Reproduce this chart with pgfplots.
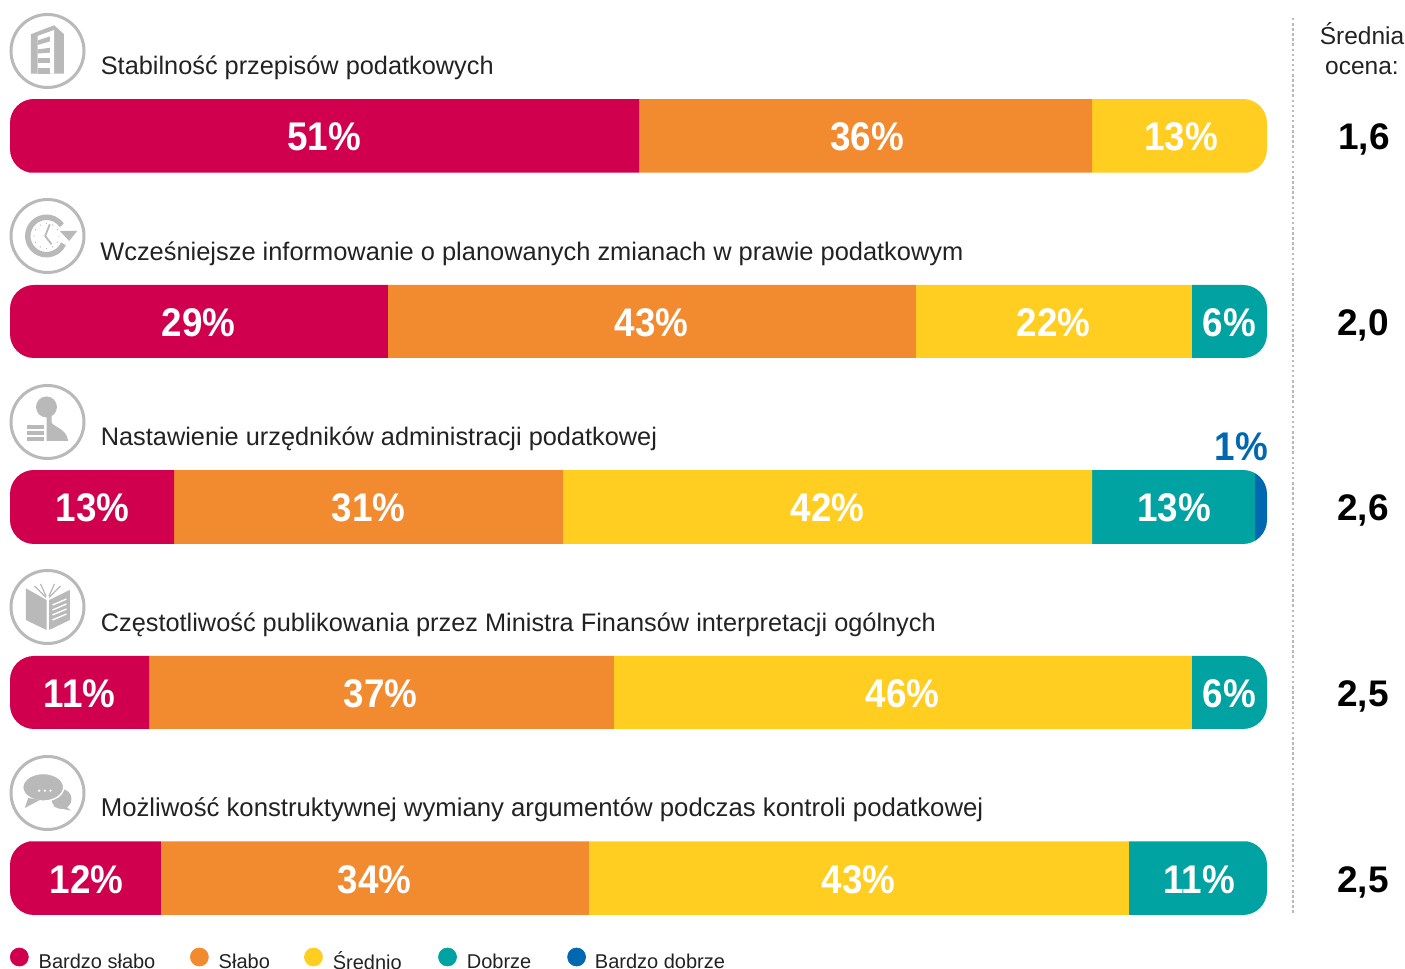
\documentclass[border=0pt]{standalone}
\usepackage{fontspec}
\usepackage{pgfplots}
\pgfplotsset{compat=1.18}
\setmainfont{Liberation Sans}
\newfontfamily\labfont[UprightFont=*,BoldFont=* Bold,FakeStretch=0.92]{Liberation Sans}
\newlength\px \setlength\px{0.6pt}
\definecolor{cA}{HTML}{D0004F}
\definecolor{cB}{HTML}{F28A2F}
\definecolor{cC}{HTML}{FFCE21}
\definecolor{cD}{HTML}{00A3A1}
\definecolor{cE}{HTML}{0067B1}
\definecolor{icon}{HTML}{B9B9B9}
\definecolor{txt}{HTML}{222222}
\begin{document}
\begin{tikzpicture}[x=\px,y=\px]
\path[use as bounding box] (0,0) rectangle (1405,969);
% bars
\begin{scope}
\clip[rounded corners=24\px]
  (10,870) rectangle (1267,796)
  (10,684) rectangle (1267,611)
  (10,499) rectangle (1267,425)
  (10,313) rectangle (1267,240)
  (10,128) rectangle (1267,54);
\begin{axis}[
  at={(10\px,-1.75\px)},anchor=south west,
  scale only axis,width=1257\px,height=927.5\px,
  xmin=0,xmax=100,ymin=-0.5,ymax=4.5,y dir=reverse,
  hide axis,xbar stacked,bar width=73.5\px,
  bar shift=0pt,clip=false]
\addplot[fill=cA,draw=none] table[x=v,y=r]{
r v
0 50.04
1 30.07
2 13.05
3 11.06
4 12.01
};
\addplot[fill=cB,draw=none] table[x=v,y=r]{
r v
0 36.04
1 42.00
2 30.95
3 36.99
4 34.05
};
\addplot[fill=cC,draw=none] table[x=v,y=r]{
r v
0 13.92
1 21.96
2 42.08
3 45.98
4 42.96
};
\addplot[fill=cD,draw=none] table[x=v,y=r]{
r v
0 0
1 5.97
2 12.97
3 5.97
4 10.98
};
\addplot[fill=cE,draw=none] table[x=v,y=r]{
r v
0 0
1 0
2 1.0
3 0
4 0
};
\end{axis}
\end{scope}
% overlay: labels, titles, legend
\begin{axis}[
  at={(0,0)},anchor=south west,
  scale only axis,width=1405\px,height=969\px,
  xmin=0,xmax=1405,ymin=0,ymax=969,y dir=reverse,
  hide axis,clip=false,
  legend columns=5,
  legend cell align=left,
  legend style={at={(axis cs:10,965)},anchor=base west,draw=none,fill=none,
    inner sep=0pt,outer sep=0pt,
    nodes={inner sep=0pt,outer sep=0pt,text=txt,font=\fontsize{12pt}{14pt}\selectfont}},
  legend image code/.code={\fill[#1] (9\px,8\px) circle[radius=9\px];},
  ]
\addlegendimage{cA}\addlegendentry{\makebox[161.4\px][l]{\hspace{10\px}\raisebox{5.5\px}{Bardzo słabo}}}
\addlegendimage{cB}\addlegendentry{\makebox[95.4\px][l]{\hspace{10\px}\raisebox{5.5\px}{Słabo}}}
\addlegendimage{cC}\addlegendentry{\makebox[115.4\px][l]{\hspace{10\px}\raisebox{5.5\px}{Średnio}}}
\addlegendimage{cD}\addlegendentry{\makebox[110.4\px][l]{\hspace{10\px}\raisebox{5.5\px}{Dobrze}}}
\addlegendimage{cE}\addlegendentry{\makebox[142\px][l]{\hspace{9\px}\raisebox{5.5\px}{Bardzo dobrze}}}
% percentage labels
\addplot[forget plot,only marks,mark=none,point meta=explicit symbolic,
  nodes near coords={\pgfplotspointmeta\%},
  every node near coord/.append style={anchor=base,inner sep=0pt,text=white,font=\labfont\bfseries\fontsize{24pt}{28pt}\selectfont}]
  table[x=x,y=y,meta=l]{
x y l
324 151 51
867 151 36
1181 151 13
198.5 336.5 29
651.5 336.5 43
1053.5 336.5 22
1229.5 336.5 6
92.5 522 13
368.5 522 31
827.5 522 42
1174 522 13
79.5 707.5 11
380.5 707.5 37
902.5 707.5 46
1229.5 707.5 6
86.5 893 12
374.5 893 34
858.5 893 43
1199 893 11
};
\addplot[forget plot,only marks,mark=none,point meta=explicit symbolic,
  nodes near coords={\pgfplotspointmeta\%},
  every node near coord/.append style={anchor=base,inner sep=0pt,text=cE,font=\labfont\bfseries\fontsize{24pt}{28pt}\selectfont}]
  table[x=x,y=y,meta=l]{
x y l
1241.5 461 1
};
% average scores
\addplot[forget plot,only marks,mark=none,point meta=explicit symbolic,
  nodes near coords={\pgfplotspointmeta},
  every node near coord/.append style={anchor=base,inner sep=0pt,text=black,font=\bfseries\fontsize{22.2pt}{26pt}\selectfont}]
  table[x=x,y=y,meta=l]{
x y l
1364 150 1,6
1363 335.5 2,0
1363 521 2,6
1363 706.5 2,5
1363 892 2,5
};
\tikzset{ttl/.style={anchor=base west,inner sep=0pt,text=txt,font=\fontsize{15.2pt}{18pt}\selectfont}}
\node[ttl] at (axis cs:100.5,75) {Stabilność przepisów podatkowych};
\node[ttl,font=\fontsize{15.25pt}{18pt}\selectfont] at (axis cs:100,261) {Wcześniejsze informowanie o planowanych zmianach w prawie podatkowym};
\node[ttl] at (axis cs:100.5,446) {Nastawienie urzędników administracji podatkowej};
\node[ttl] at (axis cs:100.5,631) {Częstotliwość publikowania przez Ministra Finansów interpretacji ogólnych};
\node[ttl,font=\fontsize{15.44pt}{18pt}\selectfont] at (axis cs:100.5,816) {Możliwość konstruktywnej wymiany argumentów podczas kontroli podatkowej};
\tikzset{hdr/.style={anchor=base,inner sep=0pt,text=txt,font=\fontsize{14.7pt}{18pt}\selectfont}}
\node[hdr] at (axis cs:1362,45) {Średnia};
\node[hdr] at (axis cs:1362,75) {ocena:};
\end{axis}
% dotted separator
\draw[color=icon,line width=2.5\px,dash pattern=on 2.5\px off 2.6\px] (1293,951) -- (1293,54);
% icons
\tikzset{ring/.style={draw=icon,line width=3\px,fill=none}}
\begin{scope}[shift={(47.5,918)},yscale=-1]
  \draw[ring] (0,0) circle[radius=36.5];
  \fill[icon] (-16.7,-16.7)--(6.7,-25.7)--(16.3,-17)--(16.3,22.7)--(-16.7,22.7)--cycle;
  \fill[white] (-10,-15)--(6.7,-21)--(6.7,22.7)--(-10,22.7)--cycle;
  \fill[icon] (-10,-10.5)--(2.3,-14.5)--(2.3,-9.5)--(-10,-6)--cycle;
  \fill[icon] (-10,-1.5)--(2.3,-3.2)--(2.3,1.7)--(-10,2.5)--cycle;
  \fill[icon] (-10,7.5) rectangle (2.3,11.7);
  \fill[icon] (-10,17.3) rectangle (2.3,22.7);
\end{scope}
\begin{scope}[shift={(47.5,733)},yscale=-1]
  \draw[ring] (0,0) circle[radius=36.5];
  \draw[icon,line width=5.5\px] (-1,0) ++(25:18.7) arc[start angle=25,end angle=325,radius=18.7];
  \fill[icon] (12.3,-5)--(29.7,-5)--(21.7,5)--cycle;
  \draw[icon,line width=1.8\px,line join=bevel] (2.3,-11.7)--(-2.3,0)--(4,8.3);
  \foreach \a in {0,30,...,330} {\fill[icon] (-1,0) ++(\a:12.5) circle[radius=0.7];}
\end{scope}
\begin{scope}[shift={(47.5,547)},yscale=-1]
  \draw[ring] (0,0) circle[radius=36.5];
  \fill[icon] (-1,-15) circle[radius=10.5];
  \fill[icon] (-1,-6)--(4,-6)--(4,0) .. controls (5,5) and (19,6) .. (20.7,19) --(-1,19)--cycle;
  \fill[icon] (-21,2.7) rectangle (-3.7,6.7);
  \fill[icon] (-21,9) rectangle (-3.7,12.7);
  \fill[icon] (-21,15.3) rectangle (-3.7,19);
\end{scope}
\begin{scope}[shift={(47.5,362)},yscale=-1]
  \draw[ring] (0,0) circle[radius=36.5];
  \fill[icon] (-21.7,-18.7)--(-1,-7)--(-1,23)--(-21.7,13)--cycle;
  \fill[icon] (1.7,-7)--(22.3,-17)--(22.3,13)--(1.7,23)--cycle;
  \draw[icon,line width=1.2\px] (-1.5,-9.5)--(-13,-21) (-1.5,-11)--(-7,-23) (1.5,-9.5)--(13,-21) (1.5,-11)--(7,-23);
  \draw[white,line width=1.4\px] (5,-2)--(19,-8) (5,3)--(19,-3) (5,8)--(19,2) (5,13)--(19,7);
\end{scope}
\begin{scope}[shift={(47.5,176)},yscale=-1]
  \draw[ring] (0,0) circle[radius=36.5];
  \fill[icon] (14,6) ellipse[x radius=10,y radius=10];
  \fill[icon] (17,12)--(23.3,17.7)--(5.7,13.7)--cycle;
  \draw[white,line width=1.4\px,fill=icon] (-4.3,-5.7) ellipse[x radius=20.5,y radius=13.8];
  \fill[icon] (-19.3,5)--(-22.7,15)--(-7.7,7)--cycle;
  \fill[white] (-8.3,-2.3) circle[radius=1.3] (-2.7,-2.3) circle[radius=1.3] (3,-2.3) circle[radius=1.3];
\end{scope}
\end{tikzpicture}
\end{document}
